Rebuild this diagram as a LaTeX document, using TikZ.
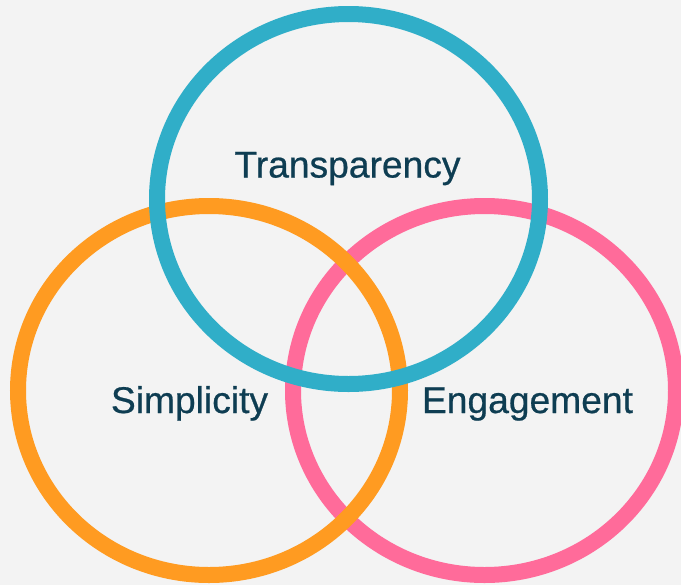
\documentclass[tikz,border=0pt]{standalone}
\usepackage{fontspec}
\setmainfont{Liberation Sans}
\newfontfamily\labelfont[FakeBold=0.6]{Liberation Sans}
\usepackage{xcolor}
\usetikzlibrary{positioning}

\definecolor{bgcol}{HTML}{F3F3F3}
\definecolor{ringblue}{HTML}{30AEC8}
\definecolor{ringorange}{HTML}{FF9B21}
\definecolor{ringpink}{HTML}{FF6B9A}
\definecolor{labeltext}{HTML}{0E3D52}

\begin{document}
\begin{tikzpicture}[x=0.5pt, y=-0.5pt,
  ring/.style={line width=8pt},
  ringlabel/.style={anchor=base, inner sep=0pt, text=labeltext, font=\labelfont\fontsize{18.6}{22}\selectfont}]

\useasboundingbox (0,0) rectangle (681,585);
\fill[bgcol] (0,0) rectangle (681,585);

% rings
\draw[ring, ringpink] (484.5,390.5) ellipse [x radius=191.5, y radius=184.5];
\draw[ring, ringorange] (209,390.5) ellipse [x radius=191, y radius=184.5];
\draw[ring, ringblue] (348.5,199) ellipse [x radius=191.5, y radius=185];

% labels
\node[ringlabel] (transparency) at (347.5,177.5) {Transparency};
\node[ringlabel] (simplicity) at (189.5,413) {Simplicity};
\node[ringlabel] (engagement) at (527.5,413) {Engagement};

\end{tikzpicture}
\end{document}
